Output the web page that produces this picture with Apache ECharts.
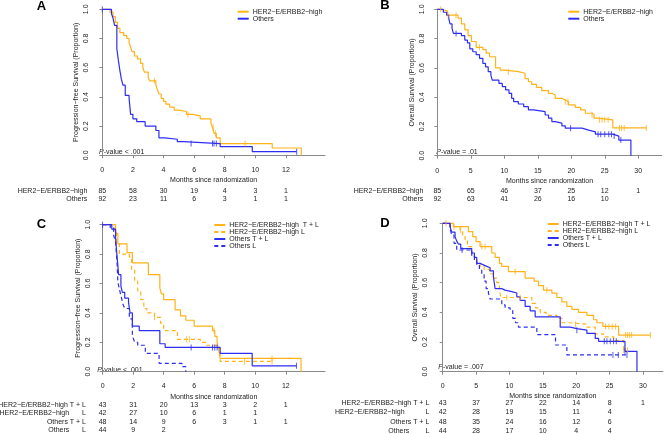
<!DOCTYPE html>
<html>
<head>
<meta charset="utf-8">
<script src="https://cdn.jsdelivr.net/npm/echarts@6/dist/echarts.min.js"></script>
<style>
html,body{margin:0;padding:0;background:#fff;}
#chart{width:667px;height:434px;}
</style>
</head>
<body>
<div id="chart"></div>
<script>
var FONT = '"Liberation Sans", Arial, sans-serif';
var ORANGE = '#FFB319';
var BLUE = '#2E2EF2';

/*---------------- A: progression-free survival ----------------*/
var aHer2T = [0, 0.5, 0.7, 0.85, 1.0, 1.15, 1.4, 1.6, 1.75, 1.85, 1.95, 2.1, 2.3, 2.5, 2.65, 2.75, 3.0, 3.1, 3.5, 3.6, 3.7, 3.85, 4.0, 4.15, 4.4, 4.7, 5.0, 5.5, 5.9, 6.4, 7.1, 7.2, 7.3, 7.45, 7.7, 11.1, 13.0];
var aHer2S = [1.0, 0.98, 0.95, 0.91, 0.87, 0.84, 0.82, 0.80, 0.77, 0.74, 0.71, 0.68, 0.66, 0.63, 0.60, 0.57, 0.53, 0.51, 0.48, 0.45, 0.42, 0.39, 0.37, 0.35, 0.33, 0.31, 0.30, 0.28, 0.27, 0.25, 0.22, 0.19, 0.15, 0.12, 0.08, 0.05, 0.0];
var aHer2Cens = [3.4, 5.6, 7.25, 7.4, 9.33];
var aOthT = [0, 0.6, 0.7, 0.8, 0.95, 1.05, 1.15, 1.25, 1.35, 1.5, 1.75, 1.85, 2.0, 2.25, 2.8, 3.5, 3.7, 4.1, 4.9, 5.3, 7.7, 9.8, 12.7];
var aOthS = [1.0, 0.97, 0.94, 0.89, 0.73, 0.65, 0.58, 0.52, 0.48, 0.41, 0.39, 0.28, 0.25, 0.23, 0.20, 0.17, 0.12, 0.11, 0.093, 0.08, 0.06, 0.025, 0.025];
var aOthCens = [0, 5.8, 7.2, 7.3, 7.45, 12.7];

/*---------------- B: overall survival ----------------*/
var bHer2T = [0, 0.6, 1.5, 3.1, 3.6, 4.1, 4.6, 5.1, 5.8, 6.8, 7.3, 7.8, 8.7, 9.4, 10.1, 12.1, 13.1, 13.6, 14.1, 14.8, 15.6, 16.6, 17.1, 17.6, 18.6, 19.1, 19.6, 20.6, 21.4, 22.1, 23.1, 23.4, 23.9, 26.2, 31.2];
var bHer2S = [1.0, 0.99, 0.96, 0.94, 0.90, 0.86, 0.82, 0.78, 0.74, 0.725, 0.70, 0.676, 0.60, 0.585, 0.574, 0.563, 0.527, 0.505, 0.487, 0.467, 0.444, 0.426, 0.415, 0.392, 0.38, 0.369, 0.347, 0.33, 0.313, 0.29, 0.28, 0.256, 0.245, 0.19, 0.19];
var bHer2Cens = [0.5, 1.6, 2.8, 6.3, 10.6, 19.1, 19.5, 23.1, 24.2, 24.6, 25.0, 25.5, 27.2, 27.5, 27.9, 31.2];
var bOthT = [0, 0.9, 1.4, 1.7, 1.9, 2.2, 2.4, 3.6, 4.1, 4.5, 4.85, 5.3, 5.8, 6.3, 6.8, 7.2, 7.6, 8.0, 8.2, 9.2, 9.7, 10.2, 10.7, 11.1, 11.4, 12.1, 12.9, 13.6, 14.4, 16.1, 16.6, 17.1, 17.6, 18.6, 19.1, 21.6, 22.6, 23.6, 26.2, 27.1, 28.9];
var bOthS = [1.0, 0.98, 0.96, 0.94, 0.90, 0.87, 0.835, 0.82, 0.79, 0.77, 0.73, 0.71, 0.69, 0.665, 0.63, 0.607, 0.574, 0.551, 0.516, 0.494, 0.472, 0.449, 0.426, 0.392, 0.369, 0.353, 0.335, 0.313, 0.301, 0.278, 0.256, 0.233, 0.222, 0.204, 0.188, 0.175, 0.163, 0.147, 0.134, 0.107, 0.0];
var bOthCens = [2.8, 19.9, 24.0, 24.4, 25.0, 25.6, 26.0, 26.4, 27.4];

/*---------------- C: PFS by treatment ----------------*/
var cHer2TLT = [0, 0.85, 1.0, 1.6, 1.95, 3.0, 3.75, 3.85, 4.0, 4.75, 5.1, 5.45, 6.0, 7.2, 7.35, 7.5, 7.6, 7.7, 13.0];
var cHer2TLS = [1.0, 0.94, 0.87, 0.81, 0.74, 0.66, 0.57, 0.53, 0.49, 0.42, 0.38, 0.35, 0.31, 0.28, 0.24, 0.20, 0.15, 0.09, 0.0];
var cHer2TLCens = [7.3, 11.1];
var cHer2LT = [0, 0.75, 0.9, 1.1, 1.75, 1.9, 2.1, 2.3, 2.5, 2.7, 2.9, 3.4, 3.8, 4.0, 4.9, 6.4, 6.8, 7.5, 7.7, 11.1];
var cHer2LS = [1.0, 0.95, 0.88, 0.80, 0.78, 0.69, 0.62, 0.55, 0.49, 0.43, 0.40, 0.37, 0.33, 0.28, 0.22, 0.20, 0.18, 0.16, 0.07, 0.07];
var cHer2LCens = [3.4, 5.5, 5.7, 9.3, 11.1];
var cOthTLT = [0, 0.6, 0.85, 0.95, 1.0, 1.05, 1.2, 1.3, 1.45, 1.7, 1.8, 1.95, 2.4, 3.75, 4.1, 7.7, 9.8, 12.7];
var cOthTLS = [1.0, 0.97, 0.91, 0.78, 0.72, 0.66, 0.58, 0.54, 0.50, 0.47, 0.40, 0.31, 0.28, 0.19, 0.165, 0.125, 0.04, 0.04];
var cOthTLCens = [0, 5.8, 7.2, 7.35, 7.5, 12.7];
var cOthLT = [0, 0.5, 0.72, 0.85, 0.95, 1.0, 1.1, 1.2, 1.33, 1.45, 1.75, 1.95, 2.0, 2.1, 2.3, 2.8, 3.7, 5.2, 5.45];
var cOthLS = [1.0, 0.98, 0.93, 0.88, 0.74, 0.61, 0.56, 0.52, 0.46, 0.43, 0.36, 0.25, 0.23, 0.20, 0.18, 0.125, 0.057, 0.034, 0.0];
var cOthLCens = [];

/*---------------- D: OS by treatment ----------------*/
var dHer2TLT = [0, 1.6, 3.85, 4.5, 5.0, 5.6, 7.35, 7.85, 8.5, 8.85, 9.85, 12.35, 13.7, 14.35, 15.1, 16.35, 17.1, 17.85, 18.6, 19.35, 20.35, 21.6, 22.6, 23.1, 24.0, 26.35, 31.1];
var dHer2TLS = [1.0, 0.977, 0.944, 0.91, 0.877, 0.843, 0.80, 0.77, 0.73, 0.71, 0.675, 0.63, 0.61, 0.58, 0.55, 0.53, 0.50, 0.47, 0.44, 0.42, 0.40, 0.38, 0.35, 0.33, 0.305, 0.247, 0.247];
var dHer2TLCens = [0.5, 5.85, 6.35, 10.85, 15.6, 24.4, 24.9, 25.4, 25.9, 27.4, 27.7, 28.0, 28.3, 31.1];
var dHer2LT = [0, 1.1, 2.6, 3.0, 3.35, 3.7, 4.35, 4.75, 5.1, 5.6, 6.2, 7.0, 7.6, 8.1, 8.5, 8.7, 13.35, 13.9, 14.6, 15.5, 17.1, 17.85, 19.0, 21.6, 22.85, 24.1, 25.6, 27.1, 27.7];
var dHer2LS = [1.0, 0.977, 0.955, 0.92, 0.89, 0.843, 0.80, 0.77, 0.73, 0.71, 0.69, 0.66, 0.63, 0.60, 0.55, 0.50, 0.46, 0.43, 0.40, 0.38, 0.36, 0.33, 0.32, 0.30, 0.255, 0.235, 0.21, 0.146, 0.146];
var dHer2LCens = [1.7, 2.7, 9.6, 11.6, 19.9, 27.1, 27.7];
var dOthTLT = [0, 1.1, 1.35, 1.85, 2.1, 2.35, 2.7, 4.35, 4.75, 5.1, 5.6, 6.1, 6.6, 7.1, 7.6, 7.85, 8.85, 9.35, 10.35, 11.1, 11.6, 12.35, 13.1, 13.85, 17.6, 19.1, 20.1, 21.6, 22.85, 23.35, 27.3, 29.1];
var dOthTLS = [1.0, 0.977, 0.94, 0.91, 0.88, 0.86, 0.83, 0.80, 0.77, 0.73, 0.72, 0.71, 0.70, 0.68, 0.64, 0.56, 0.55, 0.54, 0.53, 0.505, 0.48, 0.44, 0.41, 0.37, 0.30, 0.29, 0.28, 0.258, 0.224, 0.205, 0.137, 0.0];
var dOthTLCens = [20.1, 24.2, 24.6, 25.1, 25.6, 26.0, 27.3];
var dOthLT = [0, 1.1, 1.35, 1.7, 2.1, 4.35, 4.75, 5.1, 5.5, 5.85, 6.2, 6.5, 6.85, 7.1, 8.85, 9.35, 10.1, 10.5, 10.9, 11.35, 14.1, 16.9, 18.6, 27.6];
var dOthLS = [1.0, 0.966, 0.92, 0.865, 0.82, 0.775, 0.75, 0.72, 0.69, 0.655, 0.61, 0.56, 0.53, 0.49, 0.45, 0.43, 0.41, 0.36, 0.33, 0.30, 0.25, 0.18, 0.113, 0.113];
var dOthLCens = [2.9, 25.5, 26.3, 27.6];

/*---------------- ticks and risk tables ----------------*/
var pfsTicks = [0, 2, 4, 6, 8, 10, 12];
var osTicks = [0, 5, 10, 15, 20, 25, 30];

var riskA = [[85, 58, 30, 19, 4, 3, 1], [92, 23, 11, 6, 3, 1, 1]];
var riskB = [[85, 65, 46, 37, 25, 12, 1], [92, 63, 41, 26, 16, 10]];
var riskC = [[43, 31, 20, 13, 3, 2, 1], [42, 27, 10, 6, 1, 1], [48, 14, 9, 6, 3, 1, 1], [44, 9, 2]];
var riskD = [[43, 37, 27, 22, 14, 8, 1], [42, 28, 19, 15, 11, 4], [48, 35, 24, 16, 12, 6], [44, 28, 17, 10, 4, 4]];

var riskNamesAB = ['HER2−E/ERBB2−high', 'Others'];
var riskNamesCD = ['HER2−E/ERBB2−high T + L', 'HER2−E/ERBB2−high', 'Others T + L', 'Others'];
var riskSuffixCD = ['', 'L', '', 'L'];

var nameHer2 = 'HER2−E/ERBB2−high';
var nameOth = 'Others';
var namesC = ['HER2−E/ERBB2−high  T + L', 'HER2−E/ERBB2−high L', 'Others T + L', 'Others L'];
var namesD = ['HER2−E/ERBB2−high T + L', 'HER2−E/ERBB2−high L', 'Others T + L', 'Others L'];

/*---------------- layout of the four panels ----------------*/
var panels = [
    {letter: 'A', left: 102.3, top: 9.3, width: 222.7, height: 146, xmax: 14.55, yOff: 8.3, xOff: 6.4,
     ticks: pfsTicks, ytitle: 'Progression−free Survival (Proportion)', pval: '< .001', pvalX: 99, pvalY: 152.5,
     letterX: 41.5, letterY: 6, legendLeft: 236.7, legendTop: 8.2,
     risk: riskA, riskNames: riskNamesAB, riskSuffix: ['', ''], riskRows: [191, 199.5], riskRight: 87.3, nameLeft: []},
    {letter: 'B', left: 437.3, top: 9.3, width: 224.4, height: 146.4, xmax: 33.5, yOff: 8, xOff: 7,
     ticks: osTicks, ytitle: 'Overall Survival (Proportion)', pval: '= .01', pvalX: 436.3, pvalY: 152.5,
     letterX: 385, letterY: 5, legendLeft: 567.3, legendTop: 8.2,
     risk: riskB, riskNames: riskNamesAB, riskSuffix: ['', ''], riskRows: [191, 199.3], riskRight: 423.3, nameLeft: []},
    {letter: 'C', left: 102.6, top: 224.7, width: 222.4, height: 147, xmax: 14.57, yOff: 7.5, xOff: 6.6,
     ticks: pfsTicks, ytitle: 'Progression−free Survival (Proportion)', pval: '< .001', pvalX: 97.3, pvalY: 370.5,
     letterX: 41.5, letterY: 224.7, legendLeft: 213.3, legendTop: 221.5,
     risk: riskC, riskNames: riskNamesCD, riskSuffix: riskSuffixCD, riskRows: [405.3, 413.2, 421.7, 430], riskRight: 86, nameLeft: [0, -0.5, 0, 48.3]},
    {letter: 'D', left: 442.7, top: 223.3, width: 220.3, height: 148.4, xmax: 33.0, yOff: 10, xOff: 6,
     ticks: osTicks, ytitle: 'Overall Survival (Proportion)', pval: '= .007', pvalX: 438.3, pvalY: 367.3,
     letterX: 385, letterY: 223.3, legendLeft: 546.7, legendTop: 220.5,
     risk: riskD, riskNames: riskNamesCD, riskSuffix: riskSuffixCD, riskRows: [402.7, 412, 421.7, 430.7], riskRight: 429.3, nameLeft: [0, 335, 0, 388.3]}
];

function survAt(t, s, x) {
    var v = s[0];
    for (var i = 0; i < t.length; i++) {
        if (t[i] <= x) v = s[i];
    }
    return v;
}

var series = [];
function addCurve(k, name, t, s, cens, color, dashed) {
    series.push({
        type: 'line', name: name, xAxisIndex: k, yAxisIndex: k,
        data: t.map(function (v, i) { return [v, s[i]]; }),
        step: 'end', symbol: 'none', showSymbol: false, clip: false,
        lineStyle: {color: color, width: 1.2, type: dashed ? [4, 3] : 'solid'},
        itemStyle: {color: color},
        emphasis: {disabled: true}, z: 3
    });
    if (cens.length) {
        series.push({
            type: 'scatter', xAxisIndex: k, yAxisIndex: k,
            symbol: 'rect', symbolSize: [1, 6],
            itemStyle: {color: color},
            data: cens.map(function (c) { return [c, survAt(t, s, c)]; }),
            silent: true, z: 4
        });
    }
}

addCurve(0, nameHer2, aHer2T, aHer2S, aHer2Cens, ORANGE, false);
addCurve(0, nameOth, aOthT, aOthS, aOthCens, BLUE, false);
addCurve(1, nameHer2, bHer2T, bHer2S, bHer2Cens, ORANGE, false);
addCurve(1, nameOth, bOthT, bOthS, bOthCens, BLUE, false);
addCurve(2, namesC[0], cHer2TLT, cHer2TLS, cHer2TLCens, ORANGE, false);
addCurve(2, namesC[1], cHer2LT, cHer2LS, cHer2LCens, ORANGE, true);
addCurve(2, namesC[2], cOthTLT, cOthTLS, cOthTLCens, BLUE, false);
addCurve(2, namesC[3], cOthLT, cOthLS, cOthLCens, BLUE, true);
addCurve(3, namesD[0], dHer2TLT, dHer2TLS, dHer2TLCens, ORANGE, false);
addCurve(3, namesD[1], dHer2LT, dHer2LS, dHer2LCens, ORANGE, true);
addCurve(3, namesD[2], dOthTLT, dOthTLS, dOthTLCens, BLUE, false);
addCurve(3, namesD[3], dOthLT, dOthLS, dOthLCens, BLUE, true);

var axisGray = '#8a8a8a';
var textCol = '#222';
var grids = [], xAxes = [], yAxes = [];
panels.forEach(function (p, k) {
    grids.push({left: p.left, top: p.top, width: p.width, height: p.height});
    xAxes.push({
        gridIndex: k, type: 'value', min: 0, max: p.xmax, offset: p.xOff,
        axisLine: {show: true, lineStyle: {color: axisGray, width: 1}},
        axisTick: {show: true, length: 3, customValues: p.ticks, lineStyle: {color: axisGray}},
        axisLabel: {customValues: p.ticks, fontSize: 7, fontFamily: FONT, color: textCol, margin: 4.5},
        splitLine: {show: false},
        name: 'Months since randomization', nameLocation: 'middle', nameGap: 15,
        nameTextStyle: {fontSize: 7, fontFamily: FONT, color: textCol}
    });
    yAxes.push({
        gridIndex: k, type: 'value', min: 0, max: 1, interval: 0.2, offset: p.yOff,
        axisLine: {show: true, lineStyle: {color: axisGray, width: 1}},
        axisTick: {show: true, length: 3, lineStyle: {color: axisGray}},
        axisLabel: {rotate: 90, fontSize: 7, fontFamily: FONT, color: textCol, margin: 4,
            formatter: function (v) { return v.toFixed(1); }},
        splitLine: {show: false},
        name: p.ytitle, nameLocation: 'middle', nameRotate: 90, nameGap: 14,
        nameTextStyle: {fontSize: 7, fontFamily: FONT, color: textCol}
    });
});

var legendNames = [[nameHer2, nameOth], [nameHer2, nameOth], namesC, namesD];
var legends = panels.map(function (p, k) {
    return {
        data: legendNames[k], orient: 'vertical', left: p.legendLeft, top: p.legendTop,
        padding: 0, itemGap: 0, itemWidth: 11, itemHeight: 7, selectedMode: false,
        itemStyle: {opacity: 0},
        textStyle: {fontSize: 7, fontFamily: FONT, color: textCol, padding: [0, 0, 0, -1]}
    };
});

var chart = echarts.init(document.getElementById('chart'));
chart.setOption({
    animation: false,
    backgroundColor: '#fff',
    grid: grids,
    xAxis: xAxes,
    yAxis: yAxes,
    legend: legends,
    series: series
});

/*---------------- letters, p-values, numbers at risk ----------------*/
var g = [];
panels.forEach(function (p, k) {
    g.push({type: 'text', x: p.letterX, y: p.letterY, style: {
        text: p.letter, font: 'bold 13px ' + FONT, fill: '#000', align: 'center', verticalAlign: 'middle'}});
    g.push({type: 'text', x: p.pvalX, y: p.pvalY, style: {
        text: '{i|P}-value ' + p.pval, fontSize: 7, fontFamily: FONT, fill: textCol, verticalAlign: 'middle',
        rich: {i: {fontStyle: 'italic', fontSize: 7, fontFamily: FONT, fill: textCol}}}});
    p.risk.forEach(function (row, r) {
        var y = p.riskRows[r];
        if (p.riskSuffix[r]) {
            g.push({type: 'text', x: p.nameLeft[r], y: y, style: {
                text: p.riskNames[r], fontSize: 7, fontFamily: FONT, fill: textCol, align: 'left', verticalAlign: 'middle'}});
            g.push({type: 'text', x: p.riskRight, y: y, style: {
                text: p.riskSuffix[r], fontSize: 7, fontFamily: FONT, fill: textCol, align: 'right', verticalAlign: 'middle'}});
        } else {
            g.push({type: 'text', x: p.riskRight, y: y, style: {
                text: p.riskNames[r], fontSize: 7, fontFamily: FONT, fill: textCol, align: 'right', verticalAlign: 'middle'}});
        }
        row.forEach(function (n, j) {
            var x = chart.convertToPixel({xAxisIndex: k}, p.ticks[j]);
            g.push({type: 'text', x: x, y: y, style: {
                text: String(n), fontSize: 7, fontFamily: FONT, fill: textCol, align: 'center', verticalAlign: 'middle'}});
        });
    });
});
chart.setOption({graphic: g});
</script>
</body>
</html>
